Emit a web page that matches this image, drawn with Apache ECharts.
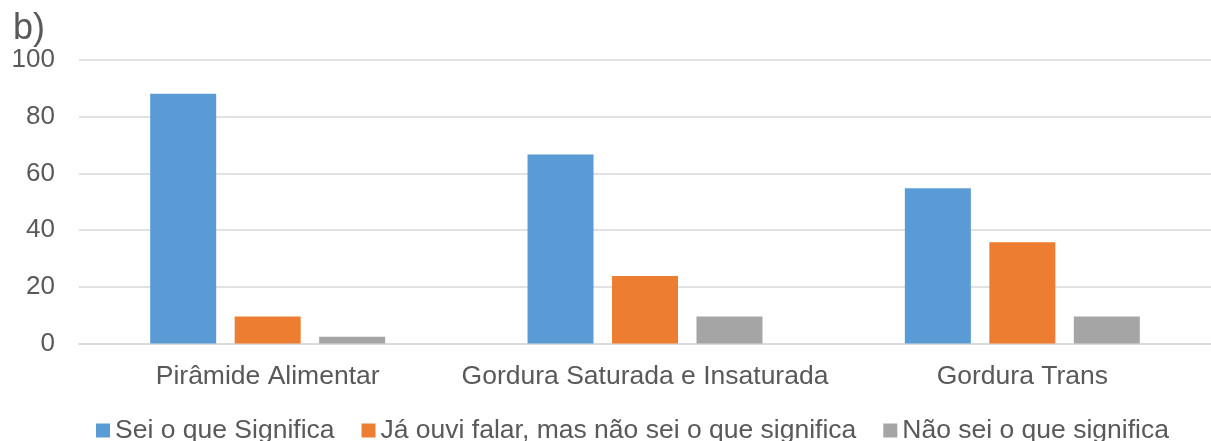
<!DOCTYPE html>
<html>
<head>
<meta charset="utf-8">
<script src="https://cdn.jsdelivr.net/npm/echarts@6/dist/echarts.min.js"></script>
<style>
  html, body { margin: 0; padding: 0; background: #fff; }
  #chart { width: 1211px; height: 441px; }
</style>
</head>
<body>
<div id="chart"></div>
<script>
// categories and series (percent of respondents)
const categories = ['Pirâmide Alimentar', 'Gordura Saturada e Insaturada', 'Gordura Trans'];
const seiValues = [88.1, 66.7, 54.8];
const jaOuviValues = [9.5, 23.8, 35.7];
const naoSeiValues = [2.4, 9.5, 9.5];
const seriesNames = ['Sei o que Significa', 'Já ouvi falar, mas não sei o que significa', 'Não sei o que significa'];
const yTicks = [0, 20, 40, 60, 80, 100];

const textColor = '#595959';
const fontFamily = '"Liberation Sans", Arial, sans-serif';

var myChart = echarts.init(document.getElementById('chart'));

function barSeries(name, values, color) {
    return {
        name: name,
        type: 'bar',
        data: values,
        barWidth: 66,
        barGap: '28%',
        itemStyle: { color: color },
        animation: false
    };
}

var option = {
    backgroundColor: '#fff',
    textStyle: { fontFamily: fontFamily },
    title: {
        text: 'b)',
        left: 8,
        top: 6,
        textStyle: { fontSize: 36, fontWeight: 'normal', color: textColor, fontFamily: fontFamily }
    },
    legend: {
        data: seriesNames,
        top: 412,
        left: 91,
        itemWidth: 14,
        itemHeight: 14,
        itemGap: 27,
        icon: 'rect',
        textStyle: { fontSize: 26.5, color: textColor, fontFamily: fontFamily }
    },
    grid: {
        left: 79,
        right: -10,
        top: 60,
        height: 283.5,
        containLabel: false
    },
    xAxis: {
        type: 'category',
        data: categories,
        axisTick: { show: false },
        axisLine: { lineStyle: { color: '#D9D9D9', width: 1.5 } },
        axisLabel: { interval: 0, fontSize: 26.5, color: textColor, margin: 20, fontFamily: fontFamily }
    },
    yAxis: {
        type: 'value',
        min: yTicks[0],
        max: yTicks[yTicks.length - 1],
        interval: 20,
        axisLine: { show: false },
        axisTick: { show: false },
        axisLabel: { fontSize: 26, color: textColor, margin: 24, fontFamily: fontFamily },
        splitLine: { lineStyle: { color: '#D9D9D9', width: 1.5 } }
    },
    series: [
        barSeries(seriesNames[0], seiValues, '#5B9BD5'),
        barSeries(seriesNames[1], jaOuviValues, '#ED7D31'),
        barSeries(seriesNames[2], naoSeiValues, '#A5A5A5')
    ]
};
myChart.setOption(option);
</script>
</body>
</html>
